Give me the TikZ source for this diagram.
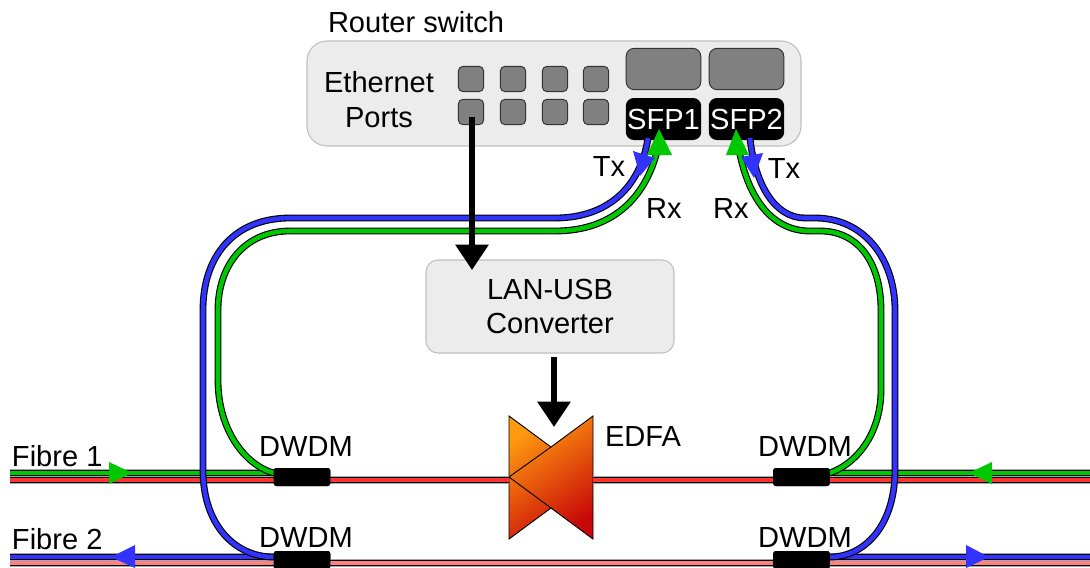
\documentclass[tikz,border=0pt]{standalone}
\usepackage{fontspec}
\setmainfont{Liberation Sans}
\usetikzlibrary{arrows.meta}
\definecolor{rxgreen}{HTML}{00C800}
\definecolor{txblue}{HTML}{3333FF}
\definecolor{fibrered}{HTML}{FF3333}
\definecolor{fibrepink}{HTML}{FF8080}
\definecolor{boxgrey}{HTML}{ECECEC}
\definecolor{portgrey}{HTML}{808080}
\definecolor{edfaorange}{HTML}{FF9A10}
\definecolor{edfared}{HTML}{C80808}
\tikzset{
    every node/.style={font=\fontsize{21.8pt}{26pt}\selectfont, inner sep=0pt, outer sep=0pt},
    panel/.style={draw=black!25, fill=boxgrey, line width=0.8pt},
    port/.style={draw=black!80, fill=portgrey, line width=0.7pt, rounded corners=3.5pt, minimum width=19pt, minimum height=19pt},
    sfpslot/.style={draw=black!80, fill=portgrey, line width=0.7pt, rounded corners=6pt, minimum width=56pt, minimum height=31pt},
    sfpblack/.style={fill=black, text=white, rounded corners=6pt, minimum width=56.5pt, minimum height=31.5pt},
    dwdm/.style={fill=black, rounded corners=2pt, minimum width=42.5pt, minimum height=13.5pt},
    fibre/.style={draw=black, line width=0.85pt, double=#1, double distance=3.4pt},
    straightfibre/.style={fibre=#1, preaction={draw=black!35, line width=6pt}},
    feed/.style={line width=4.5pt, -{Triangle[length=19pt,width=24pt]}},
}
\begin{document}
\begin{tikzpicture}[x=0.75pt,y=-0.75pt]
    \useasboundingbox (0,0) rectangle (1090,568);

    % Router
    \draw[panel, rounded corners=15pt] (307,41) rectangle (801,146);
    \node[anchor=west] (routerlabel) at (328,22) {Router switch};
    \node[align=center] (ethlabel) at (379,99.5) {Ethernet\\Ports};

    % Ports
    \foreach \x [count=\i from 1] in {471,513,555,596} {
        \node[port] (porttop\i) at (\x,79) {};
        \node[port] (portbot\i) at (\x,112) {};
    }
    \node[sfpslot] (slot1) at (663.5,69) {};
    \node[sfpslot] (slot2) at (746.5,69) {};
    \node[sfpblack] (sfp1) at (663.5,119) {SFP1};
    \node[sfpblack] (sfp2) at (746.5,119) {SFP2};

    % Konverter
    \draw[panel, rounded corners=9pt] (426,260) rectangle (674,353);
    \node[align=center] (usblabel) at (550,306.5) {LAN-USB\\Converter};

    % EDFA
    \coordinate (edfaleft) at (509,480);
    \coordinate (edfaright) at (593,480);
    \shade[draw=black, line width=0.7pt, top color=edfaorange, bottom color=edfared, shading angle=35]
        (509,416) -- (551,447) -- (593,416) -- (593,539) -- (551,508) -- (509,539) -- cycle;
    \draw[line width=0.7pt] (551,447) -- (509,477) -- (551,508);
    \node[anchor=west] (edfalabel) at (605,436) {EDFA};

    % DWDM
    \node[dwdm] (dwdm1) at (302,477) {};
    \node[dwdm] (dwdm2) at (801.5,477) {};
    \node[dwdm] (dwdm3) at (302,560) {};
    \node[dwdm] (dwdm4) at (801.5,560) {};
    \node (dwdmlabel1) at (306,446) {DWDM};
    \node (dwdmlabel2) at (805,446) {DWDM};
    \node (dwdmlabel3) at (306,537) {DWDM};
    \node (dwdmlabel4) at (805,537) {DWDM};

    % Fasern
    \coordinate (f1start) at (10,473);
    \coordinate (f1end) at (1090,473);
    \coordinate (f2start) at (10,557);
    \coordinate (f2end) at (1090,557);
    \draw[straightfibre=fibrered] (10,480) -- (edfaleft);
    \draw[straightfibre=fibrered] (edfaright) -- (1090,480);
    \draw[straightfibre=fibrepink] (10,563) -- (1090,563);
    \draw[straightfibre=rxgreen] (f1start) -- (dwdm1.west |- f1start);
    \draw[straightfibre=rxgreen] (dwdm2.east |- f1end) -- (f1end);
    \draw[straightfibre=txblue] (f2start) -- (dwdm3.west |- f2start);
    \draw[straightfibre=txblue] (dwdm4.east |- f2end) -- (f2end);

    % Schleifen
    \coordinate (sfp1tx) at (648,138);
    \coordinate (sfp1rx) at (660,138);
    \coordinate (sfp2rx) at (737,138);
    \coordinate (sfp2tx) at (750,138);
    \draw[fibre=txblue] (sfp1tx) .. controls (640,190) and (605,218) .. (555,218) -- (290,218)
        .. controls (235,218) and (203,255) .. (203,310) -- (203,470)
        .. controls (203,525) and (235,557) .. (dwdm3.west |- f2start);
    \draw[fibre=rxgreen] (sfp1rx) .. controls (650,195) and (615,231) .. (555,231) -- (290,231)
        .. controls (245,231) and (218,265) .. (218,310) -- (218,380)
        .. controls (218,430) and (245,465) .. (dwdm1.west |- f1start);
    \draw[fibre=txblue] (sfp2tx) .. controls (755,185) and (775,218) .. (805,218) -- (815,218)
        .. controls (865,218) and (895,260) .. (895,310) -- (895,470)
        .. controls (895,525) and (865,557) .. (dwdm4.east |- f2end);
    \draw[fibre=rxgreen] (sfp2rx) .. controls (745,195) and (770,231) .. (810,231) -- (820,231)
        .. controls (860,231) and (881,265) .. (881,310) -- (881,390)
        .. controls (881,430) and (860,462) .. (dwdm2.east |- f1end);

    % DWDM nochmal oben
    \node[dwdm] at (dwdm1) {};
    \node[dwdm] at (dwdm2) {};
    \node[dwdm] at (dwdm3) {};
    \node[dwdm] at (dwdm4) {};

    % Pfeilspitzen
    \foreach \a/\b/\c/\col in {
        {109,462}/{109,484}/{132,473}/rxgreen,
        {992,462}/{992,484}/{969,473}/rxgreen,
        {135,545}/{135,568}/{111,557}/txblue,
        {966,545}/{966,568}/{989,557}/txblue,
        {633,151}/{655,158}/{640,176}/txblue,
        {741,157}/{763,153}/{754,178}/txblue,
        {647,155}/{672,155}/{659,129}/rxgreen,
        {726,155}/{749,155}/{736,129}/rxgreen} {
        \fill[\col] (\a) -- (\b) -- (\c) -- cycle;
    }

    % Steuerleitungen
    \coordinate (lanstart) at (472,117);
    \coordinate (lanend) at (472,270);
    \coordinate (usbstart) at (554,357);
    \coordinate (usbend) at (554,427);
    \draw[feed] (lanstart) -- (lanend);
    \draw[feed] (usbstart) -- (usbend);

    % Beschriftung
    \node (txone) at (609,166) {Tx};
    \node (rxone) at (664,208) {Rx};
    \node (rxtwo) at (731,208) {Rx};
    \node (txtwo) at (784,168) {Tx};
    \node[anchor=west] (fibreone) at (12,456) {Fibre 1};
    \node[anchor=west] (fibretwo) at (12,539) {Fibre 2};
\end{tikzpicture}
\end{document}
